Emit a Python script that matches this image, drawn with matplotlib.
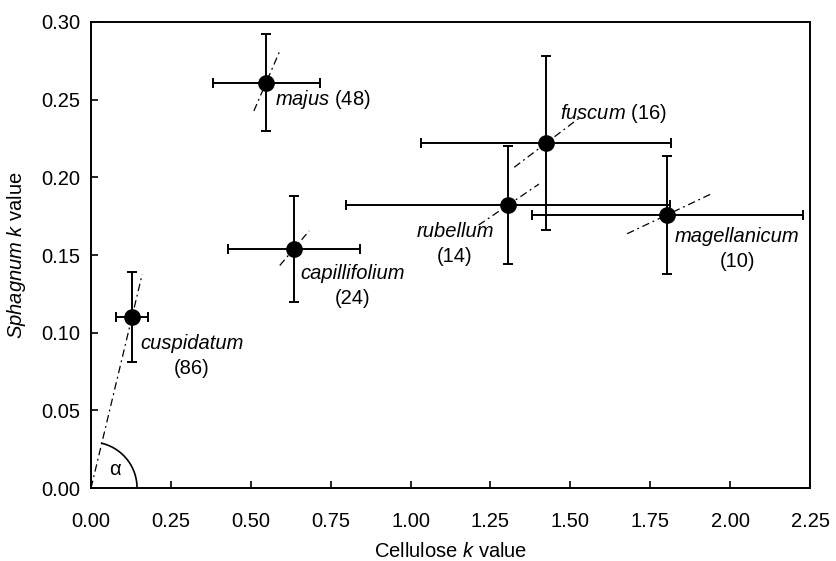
import numpy as np
import matplotlib
matplotlib.use("Agg")
import matplotlib.pyplot as plt

plt.rcParams["font.family"] = ["Liberation Sans", "DejaVu Sans"]
plt.rcParams["mathtext.fontset"] = "custom"
plt.rcParams["mathtext.rm"] = "Liberation Sans"
plt.rcParams["mathtext.it"] = "Liberation Sans:italic"

species = ["cuspidatum", "majus", "capillifolium", "rubellum", "fuscum", "magellanicum"]
n_obs = [86, 48, 24, 14, 16, 10]
cellulose_k = [0.128, 0.548, 0.635, 1.304, 1.424, 1.804]
cellulose_err = [0.050, 0.167, 0.207, 0.507, 0.390, 0.425]
sphagnum_k = [0.110, 0.261, 0.154, 0.182, 0.222, 0.176]
sphagnum_err = [0.029, 0.031, 0.034, 0.038, 0.056, 0.038]

# label anchor (x, y) in data units, and whether the count goes on a second line
label_pos = {
    "cuspidatum": (0.315, 0.093, True),
    "majus": (0.575, 0.250, False),
    "capillifolium": (0.820, 0.138, True),
    "rubellum": (1.139, 0.165, True),
    "fuscum": (1.467, 0.2412, False),
    "magellanicum": (2.023, 0.162, True),
}

fig = plt.figure(figsize=(8.36, 5.61), dpi=100)
ax = fig.add_axes([0.1089, 0.1301, 0.86, 0.8307])
ax.set_xlim(0, 2.25)
ax.set_ylim(0, 0.30)

dash = (0, (6, 3, 1.5, 3))
for sp, x, y in zip(species, cellulose_k, sphagnum_k):
    slope = y / x
    if sp == "cuspidatum":
        xs = np.array([0.0, 1.25 * x])
    else:
        xs = np.array([0.93 * x, 1.075 * x])
    ax.plot(xs, slope * xs, color="black", lw=0.9, linestyle=dash, zorder=2)

ax.errorbar(cellulose_k, sphagnum_k, xerr=cellulose_err, yerr=sphagnum_err,
            fmt="o", color="black", ms=11, elinewidth=1.4, capsize=3.5,
            capthick=1.4, zorder=3)

fs = 14.5
for sp, n in zip(species, n_obs):
    lx, ly, two_lines = label_pos[sp]
    if two_lines:
        ax.text(lx, ly, sp, style="italic", fontsize=fs, ha="center", va="center")
        ax.annotate("(%d)" % n, xy=(lx, ly), xytext=(0, -18),
                    textcoords="offset points", fontsize=fs,
                    ha="center", va="center")
    else:
        ax.text(lx, ly, r"$\mathit{%s}$ (%d)" % (sp, n), fontsize=fs,
                ha="left", va="center")

# angle marker between the x axis and the cuspidatum slope line
fig.canvas.draw()
px = ax.transData.transform([(0, 0), (1, 1)])
sx, sy = px[1] - px[0]
ang = np.arctan2(sphagnum_k[0] * sy, cellulose_k[0] * sx)
t = np.linspace(0, ang, 60)
r = 46
ax.plot(r * np.cos(t) / sx, r * np.sin(t) / sy, color="black", lw=1.2, zorder=2)
ax.text(0.075, 0.012, "α", fontsize=fs, ha="center", va="center")

ax.set_xticks(np.arange(0, 2.26, 0.25))
ax.set_yticks(np.arange(0, 0.31, 0.05))
ax.xaxis.set_major_formatter(matplotlib.ticker.FormatStrFormatter("%.2f"))
ax.yaxis.set_major_formatter(matplotlib.ticker.FormatStrFormatter("%.2f"))
ax.tick_params(direction="in", length=5, width=1.2, labelsize=fs)
ax.tick_params(axis="x", pad=17)
ax.tick_params(axis="y", pad=8)
for s in ax.spines.values():
    s.set_linewidth(1.4)

ax.set_xlabel(r"Cellulose $\mathit{k}$ value", fontsize=fs, va="center")
ax.set_ylabel(r"$\mathit{Sphagnum}$ $\mathit{k}$ value", fontsize=fs, va="center")
ax.xaxis.set_label_coords(0.5, -0.137)
ax.yaxis.set_label_coords(-0.103, 0.5)

fig.savefig("out.png", dpi=100)
